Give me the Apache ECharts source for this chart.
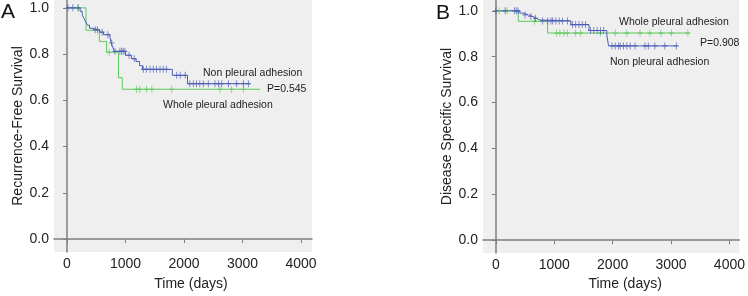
<!DOCTYPE html>
<html>
<head>
<meta charset="utf-8">
<script src="https://cdn.jsdelivr.net/npm/echarts@6/dist/echarts.min.js"></script>
<style>
  html, body { margin: 0; padding: 0; background: #fff; }
  #chart { width: 748px; height: 296px; }
</style>
</head>
<body>
<div id="chart"></div>
<script>
// tick labels
const xTicks = [0, 1000, 2000, 3000, 4000];
const yTicks = [0, 0.2, 0.4, 0.6, 0.8, 1.0];

// Panel A - recurrence-free survival, steps as [days, survival]
const rfsNonSteps = [
  [0, 1], [225, 0.985], [260, 0.97], [290, 0.955], [320, 0.94], [350, 0.925],
  [385, 0.912], [430, 0.905], [560, 0.895], [625, 0.884], [735, 0.872],
  [755, 0.848], [785, 0.828], [810, 0.812], [1000, 0.795], [1100, 0.78],
  [1180, 0.768], [1240, 0.75], [1290, 0.734], [1800, 0.708], [2060, 0.672],
  [3130, 0.672]
];
const rfsNonCensor = [17, 100, 190, 480, 520, 600, 700, 765, 820, 905, 935, 960, 990,
  1060, 1150, 1305, 1360, 1420, 1475, 1530, 1590, 1645, 1700, 1875, 1935, 2020,
  2100, 2160, 2215, 2270, 2330, 2415, 2530, 2590, 2645, 2760, 2900, 3015, 3100];
const rfsWholeSteps = [
  [0, 1], [325, 0.903], [552, 0.855], [678, 0.808], [880, 0.698], [945, 0.648],
  [3300, 0.648]
];
const rfsWholeCensor = [190, 720, 1190, 1245, 1360, 1450, 1790, 2615, 2815, 3015];

// Panel B - disease specific survival
const dssNonSteps = [
  [0, 1], [410, 0.99], [470, 0.982], [560, 0.975], [640, 0.967], [700, 0.96],
  [740, 0.956], [1285, 0.94], [1595, 0.914], [1900, 0.895], [1930, 0.847],
  [3100, 0.847]
];
const dssNonCensor = [0, 160, 320, 350, 380, 500, 600, 680, 802, 887, 944, 972, 1028,
  1085, 1141, 1226, 1311, 1367, 1424, 1480, 1537, 1622, 1678, 1735, 1791, 1847,
  1989, 2045, 2102, 2130, 2186, 2243, 2300, 2384, 2554, 2610, 2723, 2893, 3091];
const dssWholeSteps = [
  [0, 1], [384, 0.954], [887, 0.903], [3316, 0.903]
];
const dssWholeCensor = [56, 192, 660, 1040, 1096, 1169, 1226, 1367, 1452, 1791, 2045,
  2243, 2469, 2639, 2825, 3006, 3288];

const BLUE = '#4a5cb3';
const GREEN = '#5cc85c';
const AXIS = '#7f7f7f';
const FONT = '"Liberation Sans", Arial, sans-serif';

// survival level at time t
function levelAt(steps, t) {
  let s = steps[0][1];
  for (const p of steps) {
    if (p[0] <= t) s = p[1];
  }
  return s;
}
function censorPoints(steps, times) {
  return times.map(t => [t, levelAt(steps, t)]);
}

const plus = 'path://M5,0 L5,10 M0,5 L10,5';

function curve(name, steps, color, idx) {
  return {
    name: name, type: 'line', step: 'end', data: steps,
    xAxisIndex: idx, yAxisIndex: idx, showSymbol: false, silent: true,
    lineStyle: { color: color, width: 1 }, z: 3
  };
}
function marks(name, steps, times, color, idx) {
  return {
    name: name, type: 'scatter', data: censorPoints(steps, times),
    xAxisIndex: idx, yAxisIndex: idx, symbol: plus, symbolSize: [5, 7],
    silent: true,
    itemStyle: { color: 'none', borderColor: color, borderWidth: 1 }, z: 4
  };
}

function xAxis(idx, min, max, pad) {
  return {
    type: 'value', gridIndex: idx, min: min, max: max,
    name: 'Time (days)', nameLocation: 'middle', nameGap: pad[0],
    nameTextStyle: { fontSize: 14, color: '#222', fontFamily: FONT, padding: [0, 0, 0, pad[1]] },
    axisLine: { show: true, lineStyle: { color: AXIS, width: 1.5 } },
    axisTick: { show: true, length: 4, customValues: xTicks, lineStyle: { color: AXIS } },
    axisLabel: {
      customValues: xTicks, margin: 5, fontSize: 14, color: '#222', fontFamily: FONT,
      formatter: v => String(v)
    },
    splitLine: { show: false }
  };
}
function yAxis(idx, min, max, name, gap) {
  return {
    type: 'value', gridIndex: idx, min: min, max: max,
    name: name, nameLocation: 'middle', nameGap: gap,
    nameTextStyle: { fontSize: 14, color: '#222', fontFamily: FONT },
    axisLine: { show: true, lineStyle: { color: AXIS, width: 1.5 } },
    axisTick: { show: true, length: 4, customValues: yTicks, lineStyle: { color: AXIS } },
    axisLabel: {
      customValues: yTicks, margin: 5, fontSize: 14, color: '#222', fontFamily: FONT,
      formatter: v => v.toFixed(1)
    },
    splitLine: { show: false }
  };
}

function note(text, x, y) {
  return {
    type: 'text', x: x, y: y,
    style: { text: text, fill: '#222', font: '10.5px ' + FONT, verticalAlign: 'middle' }
  };
}

const chart = echarts.init(document.getElementById('chart'));
chart.setOption({
  animation: false,
  grid: [
    { left: 54, right: 436, top: 0, bottom: 42, show: true, backgroundColor: '#efefef', borderWidth: 0 },
    { left: 483, right: 6, top: 0, bottom: 39, show: true, backgroundColor: '#efefef', borderWidth: 0 }
  ],
  xAxis: [xAxis(0, -222, 4188, [25, 16]), xAxis(1, -220, 4169, [23, 28])],
  yAxis: [
    yAxis(0, -0.056, 1.034, 'Recurrence-Free Survival', 28),
    yAxis(1, -0.056, 1.047, 'Disease Specific Survival', 29)
  ],
  graphic: [
    { type: 'text', x: 1, y: 2, style: { text: 'A', fill: '#111', font: '21px ' + FONT } },
    { type: 'text', x: 436, y: 3, style: { text: 'B', fill: '#111', font: '21px ' + FONT } },
    note('Non pleural adhesion', 203, 73),
    note('P=0.545', 267, 89),
    note('Whole pleural adhesion', 163, 105),
    note('Whole pleural adhesion', 619, 22),
    note('P=0.908', 700, 43),
    note('Non pleural adhesion', 610, 62)
  ],
  series: [
    curve('Whole pleural adhesion', rfsWholeSteps, GREEN, 0),
    curve('Non pleural adhesion', rfsNonSteps, BLUE, 0),
    marks('Whole pleural adhesion', rfsWholeSteps, rfsWholeCensor, GREEN, 0),
    marks('Non pleural adhesion', rfsNonSteps, rfsNonCensor, BLUE, 0),
    curve('Whole pleural adhesion', dssWholeSteps, GREEN, 1),
    curve('Non pleural adhesion', dssNonSteps, BLUE, 1),
    marks('Whole pleural adhesion', dssWholeSteps, dssWholeCensor, GREEN, 1),
    marks('Non pleural adhesion', dssNonSteps, dssNonCensor, BLUE, 1)
  ]
});
</script>
</body>
</html>
